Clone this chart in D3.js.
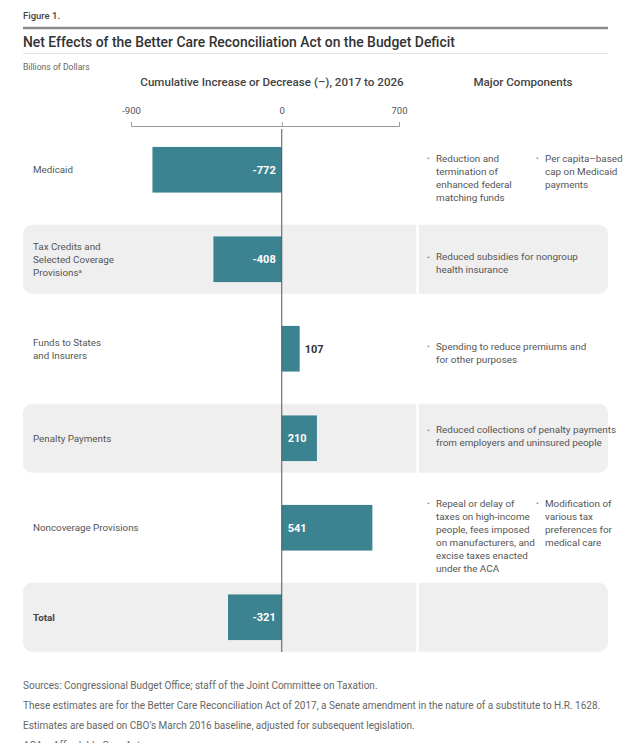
<!DOCTYPE html>
<html>
<head>
<meta charset="utf-8">
<script src="https://cdn.jsdelivr.net/npm/d3@7"></script>
<style>
  body { margin: 0; background: #fff; }
  svg { display: block; font-family: Roboto, "Open Sans", sans-serif; }
</style>
</head>
<body>
<svg id="chart" width="640" height="743"></svg>
<script>
// chart data
const categories = ["Medicaid", "Tax Credits", "Funds to States", "Penalty Payments", "Noncoverage Provisions", "Total"];
const categoryLines = [
    ["Medicaid"],
    ["Tax Credits and", "Selected Coverage", "Provisions"],
    ["Funds to States", "and Insurers"],
    ["Penalty Payments"],
    ["Noncoverage Provisions"],
    ["Total"]
];
const values = [-772, -408, 107, 210, 541, -321];
const axisTicks = [-900, 0, 700];

// major components, one list of bullets per row, each bullet a list of lines
const components = [
    [["Reduction and", "termination of", "enhanced federal", "matching funds"], ["Per capita\u2013based", "cap on Medicaid", "payments"]],
    [["Reduced subsidies for nongroup", "health insurance"]],
    [["Spending to reduce premiums and", "for other purposes"]],
    [["Reduced collections of penalty payments", "from employers and uninsured people"]],
    [["Repeal or delay of", "taxes on high-income", "people, fees imposed", "on manufacturers, and", "excise taxes enacted", "under the ACA"], ["Modification of", "various tax", "preferences for", "medical care"]],
    []
];

const footnotes = [
    "Sources: Congressional Budget Office; staff of the Joint Committee on Taxation.",
    "These estimates are for the Better Care Reconciliation Act of 2017, a Senate amendment in the nature of a substitute to H.R. 1628.",
    "Estimates are based on CBO\u2019s March 2016 baseline, adjusted for subsequent legislation.",
    "ACA = Affordable Care Act."
];

const svg = d3.select("#chart");
const barColor = "#3b8390";
const textColor = "#555";

// header
svg.append("text").attr("x", 23).attr("y", 19)
    .style("font-size", "9.5px").style("font-weight", 500).style("fill", "#444")
    .text("Figure 1.");
svg.append("line").attr("x1", 23).attr("x2", 608).attr("y1", 28).attr("y2", 28)
    .style("stroke", "#8a8a8a").style("stroke-width", 2.5);
svg.append("text").attr("x", 23).attr("y", 47)
    .style("font-size", "13.9px").style("font-weight", 500).style("fill", "#333")
    .text("Net Effects of the Better Care Reconciliation Act on the Budget Deficit");
svg.append("line").attr("x1", 23).attr("x2", 608).attr("y1", 53.5).attr("y2", 53.5)
    .style("stroke", "#e2e2e2").style("stroke-width", 1);
svg.append("text").attr("x", 23).attr("y", 70)
    .style("font-size", "8.6px").style("fill", "#666")
    .text("Billions of Dollars");
svg.append("text").attr("x", 272).attr("y", 86).attr("text-anchor", "middle")
    .style("font-size", "11.6px").style("font-weight", 500).style("fill", "#444")
    .text("Cumulative Increase or Decrease (\u2013), 2017 to 2026");
svg.append("text").attr("x", 523).attr("y", 86).attr("text-anchor", "middle")
    .style("font-size", "11.6px").style("font-weight", 500).style("fill", "#444")
    .text("Major Components");

// scales
const x = d3.scaleLinear().domain([-900, 700]).range([131, 399]);
const y = d3.scaleBand().domain(categories).range([125, 662]);
const step = y.step();

// shaded rows
const rows = categories.map((c, i) => ({ c, i, v: values[i] }));
svg.selectAll("rect.band")
    .data(rows.filter(d => d.i % 2 === 1))
    .enter().append("rect")
    .attr("class", "band")
    .attr("x", 23).attr("width", 585)
    .attr("y", d => y(d.c) + step * 0.115)
    .attr("height", step * 0.77)
    .attr("rx", 9)
    .style("fill", "#efefef");
svg.append("line").attr("x1", 417.5).attr("x2", 417.5).attr("y1", 126).attr("y2", 662)
    .style("stroke", "#fff").style("stroke-width", 2.5);

// axis at the top
const axis = svg.append("g")
    .attr("transform", "translate(0,126)")
    .call(d3.axisTop(x).tickValues(axisTicks).tickSizeInner(4).tickSizeOuter(4).tickPadding(8).tickFormat(d => String(d)));
axis.select(".domain").style("stroke", "#9a9a9a");
axis.selectAll(".tick line").style("stroke", "#9a9a9a");
axis.selectAll(".tick text").style("font-size", "9.5px").style("fill", textColor).style("font-family", "Roboto, sans-serif");

// bars
svg.selectAll("rect.bar")
    .data(rows)
    .enter().append("rect")
    .attr("class", "bar")
    .attr("x", d => x(Math.min(0, d.v)))
    .attr("width", d => Math.abs(x(d.v) - x(0)))
    .attr("y", d => y(d.c) + step * 0.245)
    .attr("height", step * 0.51)
    .style("fill", barColor);

// zero line
svg.append("line").attr("x1", x(0)).attr("x2", x(0)).attr("y1", 129).attr("y2", 652)
    .style("stroke", "#555").style("stroke-width", 1);

// value labels
svg.selectAll("text.value")
    .data(rows)
    .enter().append("text")
    .attr("class", "value")
    .attr("x", d => {
        if (d.v < 0) return x(0) - 6;
        if (x(d.v) - x(0) < 30) return x(d.v) + 5;
        return x(0) + 6;
    })
    .attr("y", d => y(d.c) + step / 2 + 4)
    .attr("text-anchor", d => d.v < 0 ? "end" : "start")
    .style("font-size", "11px").style("font-weight", 700)
    .style("fill", d => (d.v > 0 && x(d.v) - x(0) < 30) ? "#333" : "#fff")
    .text(d => d.v);

// category labels
const lineH = 13;
rows.forEach(d => {
    const lines = categoryLines[d.i];
    const t = svg.append("text")
        .attr("x", 33)
        .style("font-size", "9.8px")
        .style("font-weight", d.c === "Total" ? 700 : 400)
        .style("fill", d.c === "Total" ? "#444" : textColor);
    const top = y(d.c) + step / 2 - (lines.length - 1) * lineH / 2 + 3.5;
    lines.forEach((l, k) => {
        t.append("tspan").attr("x", 33).attr("y", top + k * lineH).text(l);
        if (l === "Provisions") {
            t.append("tspan").attr("dy", -3).style("font-size", "6px").text("a");
        }
    });
});

// major components
const colX = [427, 536];
rows.forEach(d => {
    const maxLines = d3.max(components[d.i], it => it.length) || 0;
    let top = y(d.c) + step / 2 + 7.5 - (maxLines - 1) * lineH / 2;
    if (maxLines > 2) top += 4;
    if (d.i === 3) top -= 6;
    components[d.i].forEach((item, j) => {
        svg.append("text")
            .attr("x", colX[j]).attr("y", top - 0.5)
            .style("font-size", "8px").style("fill", "#777")
            .text("\u2022");
        const t = svg.append("text")
            .style("font-size", "9.9px").style("fill", textColor);
        item.forEach((l, k) => {
            t.append("tspan").attr("x", colX[j] + 9).attr("y", top + k * lineH).text(l);
        });
    });
});

// footnotes
svg.selectAll("text.note")
    .data(footnotes)
    .enter().append("text")
    .attr("class", "note")
    .attr("x", 23)
    .attr("y", (d, i) => 689 + i * 20)
    .style("font-size", "10px").style("fill", "#666")
    .text(d => d);
</script>
</body>
</html>
